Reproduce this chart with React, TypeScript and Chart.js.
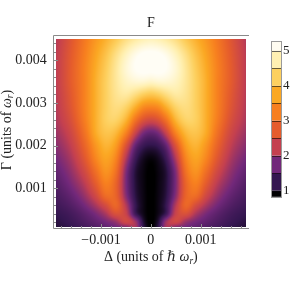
import React, { useEffect, useRef } from "react";
import { Chart, registerables } from "chart.js";

Chart.register(...registerables);

// ---- Data ----
// Δ (units of ħω_r) grid columns
const DELTA = [-0.0019, -0.0016, -0.0013, -0.0011, -0.0009, -0.0007, -0.0005, -0.0003, -0.00015, 0,
  0.00015, 0.0003, 0.0005, 0.0007, 0.0009, 0.0011, 0.0013, 0.0016, 0.0019];
// Γ (units of ω_r) grid rows
const GAMMA = [0.0001, 0.0002, 0.0004, 0.0006, 0.0008, 0.0011, 0.0014, 0.0017, 0.002, 0.0023,
  0.0026, 0.0029, 0.0032, 0.0035, 0.0038, 0.0041, 0.0045];

// F values, one row per Γ
const F_G0001 = [1.15, 1.25, 1.4, 1.5, 1.62, 1.75, 1.9, 2.05, 1.22, 0.9, 1.22, 2.05, 1.9, 1.75, 1.62, 1.5, 1.4, 1.25, 1.15];
const F_G0002 = [1.18, 1.3, 1.47, 1.6, 1.75, 1.95, 2.35, 2.0, 1.15, 0.88, 1.15, 2.0, 2.35, 1.95, 1.75, 1.6, 1.47, 1.3, 1.18];
const F_G0004 = [1.25, 1.38, 1.6, 1.8, 2.1, 2.55, 2.3, 1.3, 1.0, 0.88, 1.0, 1.3, 2.3, 2.55, 2.1, 1.8, 1.6, 1.38, 1.25];
const F_G0006 = [1.33, 1.5, 1.8, 2.1, 2.5, 2.9, 2.15, 1.25, 0.99, 0.88, 0.99, 1.25, 2.15, 2.9, 2.5, 2.1, 1.8, 1.5, 1.33];
const F_G0008 = [1.4, 1.62, 2.0, 2.4, 2.95, 2.85, 1.9, 1.18, 0.98, 0.88, 0.98, 1.18, 1.9, 2.85, 2.95, 2.4, 2.0, 1.62, 1.4];
const F_G0011 = [1.5, 1.8, 2.25, 2.75, 3.25, 2.85, 1.8, 1.14, 0.97, 0.87, 0.97, 1.14, 1.8, 2.85, 3.25, 2.75, 2.25, 1.8, 1.5];
const F_G0014 = [1.62, 1.95, 2.5, 3.05, 3.5, 3.05, 1.85, 1.14, 0.97, 0.88, 0.97, 1.14, 1.85, 3.05, 3.5, 3.05, 2.5, 1.95, 1.62];
const F_G0017 = [1.75, 2.1, 2.75, 3.35, 3.7, 3.3, 2.15, 1.3, 1.04, 0.95, 1.04, 1.3, 2.15, 3.3, 3.7, 3.35, 2.75, 2.1, 1.75];
const F_G0020 = [1.88, 2.25, 2.95, 3.55, 3.9, 3.6, 2.6, 1.62, 1.3, 1.22, 1.3, 1.62, 2.6, 3.6, 3.9, 3.55, 2.95, 2.25, 1.88];
const F_G0023 = [2.0, 2.4, 3.15, 3.8, 4.1, 3.95, 3.3, 2.3, 1.8, 1.65, 1.8, 2.3, 3.3, 3.95, 4.1, 3.8, 3.15, 2.4, 2.0];
const F_G0026 = [2.1, 2.55, 3.3, 3.85, 4.25, 4.3, 3.9, 3.05, 2.6, 2.45, 2.6, 3.05, 3.9, 4.3, 4.25, 3.85, 3.3, 2.55, 2.1];
const F_G0029 = [2.15, 2.65, 3.35, 3.85, 4.25, 4.45, 4.3, 3.8, 3.4, 3.3, 3.4, 3.8, 4.3, 4.45, 4.25, 3.85, 3.35, 2.65, 2.15];
const F_G0032 = [2.18, 2.7, 3.35, 3.85, 4.25, 4.55, 4.65, 4.45, 4.25, 4.15, 4.25, 4.45, 4.65, 4.55, 4.25, 3.85, 3.35, 2.7, 2.18];
const F_G0035 = [2.2, 2.75, 3.35, 3.85, 4.25, 4.6, 4.85, 4.95, 4.95, 4.9, 4.95, 4.95, 4.85, 4.6, 4.25, 3.85, 3.35, 2.75, 2.2];
const F_G0038 = [2.2, 2.75, 3.35, 3.8, 4.2, 4.6, 4.95, 5.15, 5.2, 5.2, 5.2, 5.15, 4.95, 4.6, 4.2, 3.8, 3.35, 2.75, 2.2];
const F_G0041 = [2.2, 2.72, 3.3, 3.72, 4.1, 4.5, 4.85, 5.1, 5.2, 5.22, 5.2, 5.1, 4.85, 4.5, 4.1, 3.72, 3.3, 2.72, 2.2];
const F_G0045 = [2.15, 2.65, 3.2, 3.55, 3.85, 4.15, 4.45, 4.65, 4.75, 4.8, 4.75, 4.65, 4.45, 4.15, 3.85, 3.55, 3.2, 2.65, 2.15];

const F_ROWS = [F_G0001, F_G0002, F_G0004, F_G0006, F_G0008, F_G0011, F_G0014, F_G0017, F_G0020,
  F_G0023, F_G0026, F_G0029, F_G0032, F_G0035, F_G0038, F_G0041, F_G0045];

// Axes
const X_MIN = -0.00197;
const X_MAX = 0.00197;
const Y_MIN = 0.00005;
const Y_MAX = 0.00459;
const X_TICKS = [-0.001, 0, 0.001];
const Y_TICKS = [0.001, 0.002, 0.003, 0.004];
const X_MINOR = [-0.0018, -0.0016, -0.0014, -0.0012, -0.0008, -0.0006, -0.0004, -0.0002,
  0.0002, 0.0004, 0.0006, 0.0008, 0.0012, 0.0014, 0.0016, 0.0018];
const Y_MINOR = [0.0002, 0.0004, 0.0006, 0.0008, 0.0012, 0.0014, 0.0016, 0.0018, 0.0022, 0.0024,
  0.0026, 0.0028, 0.0032, 0.0034, 0.0036, 0.0038, 0.0042, 0.0044];

// Color scale
const CMAP_V = [0.9, 1.25, 1.75, 2.25, 2.75, 3.25, 3.75, 4.25, 4.75, 5.15];
const CMAP_C = ["#000000", "#341650", "#72287a", "#c4404f", "#e55c2c", "#f77f1f", "#fba823", "#fdd05f", "#fff0b2", "#fffdf5"];
const LEGEND_BOUNDS = [0.82, 1, 1.5, 2, 2.5, 3, 3.5, 4, 4.5, 5, 5.25];
const LEGEND_TICKS = [1, 2, 3, 4, 5];

const FONT = "'Liberation Serif', 'DejaVu Serif', serif";
const TEXT = "#222";
const FRAME = "#8a8a8a";

function hexToRgb(h: string): number[] {
  const n = parseInt(h.slice(1), 16);
  return [(n >> 16) & 255, (n >> 8) & 255, n & 255];
}
const CMAP_RGB = CMAP_C.map(hexToRgb);

function colorFor(v: number): number[] {
  const n = CMAP_V.length;
  if (v <= CMAP_V[0]) return CMAP_RGB[0];
  if (v >= CMAP_V[n - 1]) return CMAP_RGB[n - 1];
  let i = 0;
  while (i < n - 2 && v > CMAP_V[i + 1]) i++;
  const t = (v - CMAP_V[i]) / (CMAP_V[i + 1] - CMAP_V[i]);
  const a = CMAP_RGB[i], b = CMAP_RGB[i + 1];
  return [a[0] + (b[0] - a[0]) * t, a[1] + (b[1] - a[1]) * t, a[2] + (b[2] - a[2]) * t];
}

function slopes(xs: number[], ys: number[]): number[] {
  const n = xs.length;
  const m = new Array(n);
  for (let i = 0; i < n; i++) {
    if (i === 0) m[i] = (ys[1] - ys[0]) / (xs[1] - xs[0]);
    else if (i === n - 1) m[i] = (ys[n - 1] - ys[n - 2]) / (xs[n - 1] - xs[n - 2]);
    else {
      const h0 = xs[i] - xs[i - 1], h1 = xs[i + 1] - xs[i];
      const d0 = (ys[i] - ys[i - 1]) / h0, d1 = (ys[i + 1] - ys[i]) / h1;
      m[i] = (h1 * d0 + h0 * d1) / (h0 + h1);
    }
  }
  return m;
}

function herm(xs: number[], ys: number[], ms: number[], x: number): number {
  const n = xs.length;
  if (x <= xs[0]) return ys[0];
  if (x >= xs[n - 1]) return ys[n - 1];
  let i = 0;
  while (i < n - 2 && x > xs[i + 1]) i++;
  const h = xs[i + 1] - xs[i];
  const t = (x - xs[i]) / h;
  const t2 = t * t, t3 = t2 * t;
  return (2 * t3 - 3 * t2 + 1) * ys[i] + (t3 - 2 * t2 + t) * h * ms[i] +
    (-2 * t3 + 3 * t2) * ys[i + 1] + (t3 - t2) * h * ms[i + 1];
}

const heatmapPlugin = {
  id: "heatmap",
  beforeDatasetsDraw(chart: any) {
    const { ctx } = chart;
    const xs = chart.scales.x, ys = chart.scales.y;
    const left = Math.round(xs.getPixelForValue(DELTA[0]));
    const right = Math.round(xs.getPixelForValue(DELTA[DELTA.length - 1]));
    const top = Math.round(ys.getPixelForValue(GAMMA[GAMMA.length - 1]));
    const bottom = Math.round(ys.getPixelForValue(GAMMA[0]));
    const w = right - left, h = bottom - top;
    if (w <= 0 || h <= 0) return;
    const img = ctx.createImageData(w, h);
    const rowSlopes = F_ROWS.map((r) => slopes(DELTA, r));
    const gVals: number[] = [];
    for (let py = 0; py < h; py++) gVals.push(ys.getValueForPixel(top + py + 0.5));
    for (let px = 0; px < w; px++) {
      const d = xs.getValueForPixel(left + px + 0.5);
      const col = F_ROWS.map((r, k) => herm(DELTA, r, rowSlopes[k], d));
      const cs = slopes(GAMMA, col);
      for (let py = 0; py < h; py++) {
        const v = herm(GAMMA, col, cs, gVals[py]);
        const c = colorFor(v);
        const o = (py * w + px) * 4;
        img.data[o] = c[0];
        img.data[o + 1] = c[1];
        img.data[o + 2] = c[2];
        img.data[o + 3] = 255;
      }
    }
    ctx.putImageData(img, left, top);
  },
};

function legendY(v: number) {
  return 190.5 - (v - 1) * 35;
}

const decorPlugin = {
  id: "decor",
  afterDraw(chart: any) {
    const { ctx, chartArea } = chart;
    const xs = chart.scales.x, ys = chart.scales.y;
    const L = Math.round(chartArea.left) + 0.5;
    const R = Math.round(chartArea.right);
    const T = Math.round(chartArea.top) + 0.5;
    const B = Math.round(chartArea.bottom) - 0.5;
    ctx.save();
    ctx.strokeStyle = FRAME;
    ctx.lineWidth = 1;
    ctx.beginPath();
    ctx.moveTo(L, T); ctx.lineTo(R, T);
    ctx.moveTo(L, T); ctx.lineTo(L, B);
    ctx.moveTo(L, B); ctx.lineTo(R, B);
    for (const v of Y_TICKS) { const p = Math.round(ys.getPixelForValue(v)) + 0.5; ctx.moveTo(L, p); ctx.lineTo(L + 4.5, p); }
    for (const v of Y_MINOR) { const p = Math.round(ys.getPixelForValue(v)) + 0.5; ctx.moveTo(L, p); ctx.lineTo(L + 2.5, p); }
    for (const v of X_TICKS) { const p = Math.round(xs.getPixelForValue(v)) + 0.5; ctx.moveTo(p, B); ctx.lineTo(p, B - 4.5); }
    for (const v of X_MINOR) { const p = Math.round(xs.getPixelForValue(v)) + 0.5; ctx.moveTo(p, B); ctx.lineTo(p, B - 2.5); }
    ctx.stroke();

    // title
    ctx.fillStyle = TEXT;
    ctx.textBaseline = "alphabetic";
    ctx.textAlign = "center";
    ctx.font = `14px ${FONT}`;
    const cx = (chartArea.left + chartArea.right) / 2;
    ctx.fillText("F", cx, 27);

    const drawParts = (parts: { t: string; f: string; dy?: number }[], x0: number, y0: number) => {
      let w = 0;
      for (const p of parts) { ctx.font = p.f; w += ctx.measureText(p.t).width; }
      let x = x0 - w / 2;
      ctx.textAlign = "left";
      for (const p of parts) {
        ctx.font = p.f;
        ctx.fillText(p.t, x, y0 + (p.dy || 0));
        x += ctx.measureText(p.t).width;
      }
    };
    const nf = `14px ${FONT}`;
    const itf = `italic 14px ${FONT}`;
    const subf = `italic 9.5px ${FONT}`;
    // x-axis title: Δ (units of ℏ ω_r)
    drawParts([
      { t: "Δ (units of ", f: nf },
      { t: "ℏ", f: itf },
      { t: " ", f: nf },
      { t: "ω", f: itf },
      { t: "r", f: subf, dy: 2.5 },
      { t: ")", f: nf },
    ], cx, 261);

    // y-axis title
    ctx.save();
    ctx.translate(10.5, 130);
    ctx.rotate(-Math.PI / 2);
    drawParts([
      { t: "Γ (units of ", f: nf },
      { t: "ω", f: itf },
      { t: "r", f: subf, dy: 2.5 },
      { t: ")", f: nf },
    ], 0, 0);
    ctx.restore();

    // color bar legend
    const bx = 272, bw = 9;
    for (let i = 0; i < LEGEND_BOUNDS.length - 1; i++) {
      const v0 = LEGEND_BOUNDS[i], v1 = LEGEND_BOUNDS[i + 1];
      const c = colorFor((v0 + v1) / 2);
      ctx.fillStyle = `rgb(${c[0]},${c[1]},${c[2]})`;
      const yTop = legendY(v1), yBot = legendY(v0);
      ctx.fillRect(bx, yTop, bw, yBot - yTop);
    }
    for (let i = 1; i < LEGEND_BOUNDS.length - 1; i++) {
      const v = LEGEND_BOUNDS[i];
      const c = colorFor(v);
      ctx.strokeStyle = `rgb(${Math.round(c[0] * 0.4)},${Math.round(c[1] * 0.4)},${Math.round(c[2] * 0.4)})`;
      const y = Math.round(legendY(v)) + 0.5;
      ctx.beginPath();
      ctx.moveTo(bx, y); ctx.lineTo(bx + bw, y);
      ctx.stroke();
    }
    ctx.strokeStyle = "#9a9a9a";
    ctx.strokeRect(bx - 0.5, Math.round(legendY(LEGEND_BOUNDS[LEGEND_BOUNDS.length - 1])) - 0.5, bw + 1,
      Math.round(legendY(LEGEND_BOUNDS[0])) - Math.round(legendY(LEGEND_BOUNDS[LEGEND_BOUNDS.length - 1])) + 1);
    ctx.fillStyle = TEXT;
    ctx.font = `13px ${FONT}`;
    ctx.textAlign = "left";
    ctx.textBaseline = "middle";
    for (const v of LEGEND_TICKS) ctx.fillText(String(v), 283, legendY(v));
    ctx.restore();
  },
};

function fmt(v: number): string {
  if (Math.abs(v) < 1e-12) return "0";
  return (v < 0 ? "\u2212" : "") + Math.abs(v).toFixed(3);
}

export default function App() {
  const ref = useRef<HTMLCanvasElement | null>(null);
  useEffect(() => {
    if (!ref.current) return;
    const chart = new Chart(ref.current, {
      type: "scatter",
      data: { datasets: [{ data: [], pointRadius: 0 }] },
      options: {
        animation: false,
        responsive: false,
        maintainAspectRatio: false,
        devicePixelRatio: 1,
        events: [],
        layout: { padding: { left: 0, right: 42, top: 35, bottom: 0 } },
        plugins: { legend: { display: false }, tooltip: { enabled: false }, title: { display: false } },
        scales: {
          x: {
            type: "linear",
            min: X_MIN,
            max: X_MAX,
            grid: { display: false, drawTicks: false },
            border: { display: false },
            afterBuildTicks: (s: any) => { s.ticks = X_TICKS.map((v) => ({ value: v })); },
            afterFit: (s: any) => { s.height = 53.3; },
            ticks: { font: { family: FONT, size: 14 }, color: TEXT, padding: 3, maxRotation: 0, autoSkip: false, callback: (v: any) => fmt(Number(v)) },
          },
          y: {
            type: "linear",
            min: Y_MIN,
            max: Y_MAX,
            grid: { display: false, drawTicks: false },
            border: { display: false },
            afterBuildTicks: (s: any) => { s.ticks = Y_TICKS.map((v) => ({ value: v })); },
            afterFit: (s: any) => { s.width = 52.7; },
            ticks: { font: { family: FONT, size: 14 }, color: TEXT, padding: 6, autoSkip: false, callback: (v: any) => fmt(Number(v)) },
          },
        },
      } as any,
      plugins: [heatmapPlugin, decorPlugin],
    });
    return () => chart.destroy();
  }, []);
  return (
    <div style={{ position: "absolute", left: 0, top: 0, width: 291, height: 282, background: "#fff" }}>
      <canvas ref={ref} width={291} height={282} style={{ display: "block", width: 291, height: 282 }} />
    </div>
  );
}
